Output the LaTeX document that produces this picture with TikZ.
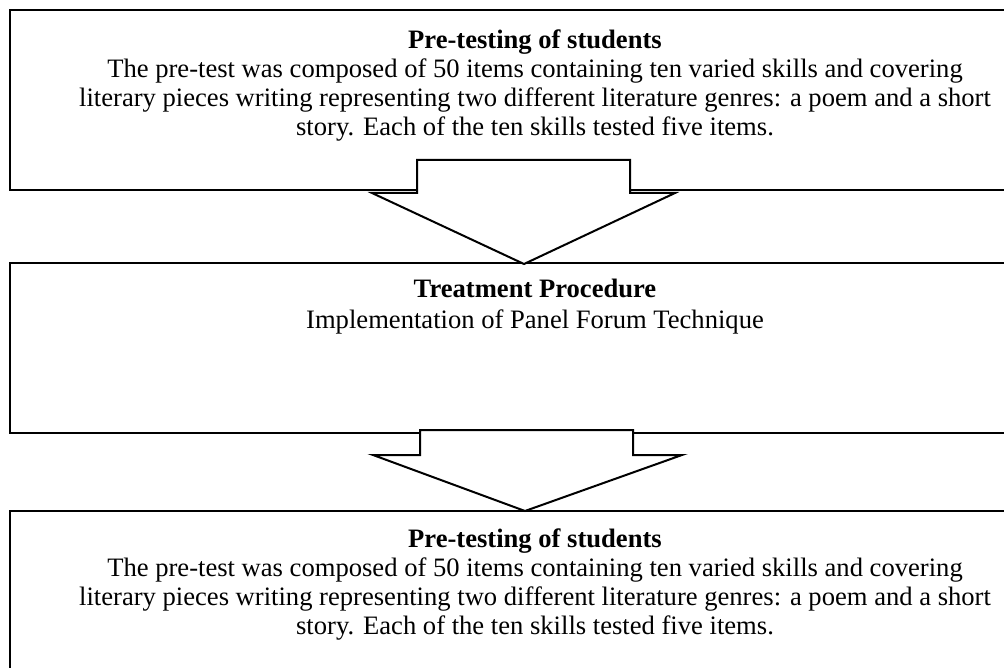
\documentclass[tikz,border=0pt]{standalone}
\usepackage{fontspec}
\setmainfont{Liberation Serif}
\usetikzlibrary{calc}
\tikzset{
  box/.style={draw=black, fill=white, line width=2pt, rectangle, inner sep=0pt},
  blockarrow/.style={draw=black, fill=white, line width=2pt, line join=miter},
  txt/.style={align=center, inner sep=0pt, anchor=north, font=\fontsize{26.6}{29}\selectfont}
}
\begin{document}
\begin{tikzpicture}[x=1pt,y=-1pt]
\useasboundingbox (0,0) rectangle (1004,668);
\clip (0,0) rectangle (1004,668);
\fill[white] (0,0) rectangle (1004,668);
% boxes
\node[box, minimum width=1050pt, minimum height=180pt] (b1) at (535,100) {};
\node[box, minimum width=1050pt, minimum height=170pt] (b2) at (535,348) {};
\node[box, minimum width=1050pt, minimum height=200pt] (b3) at (535,611) {};
% texts
\node[txt] (t1) at (535,30) {\textbf{Pre-testing of students}\\
The pre-test was composed of 50 items containing ten varied skills and covering\\
literary pieces writing representing two different literature genres: a poem and a short\\
story. Each of the ten skills tested five items.};
\node[txt, font=\fontsize{26.6}{30.5}\selectfont] (t2) at (535,279) {\textbf{Treatment Procedure}\\
Implementation of Panel Forum Technique};
\node[txt] (t3) at (535,529) {\textbf{Pre-testing of students}\\
The pre-test was composed of 50 items containing ten varied skills and covering\\
literary pieces writing representing two different literature genres: a poem and a short\\
story. Each of the ten skills tested five items.};
% block arrows
\coordinate (a1tip) at (524,264);
\coordinate (a2tip) at (525,511);
\draw[blockarrow] (417,160) -- (630,160) -- (630,193) -- (675,193) -- (a1tip) -- (372,193) -- (417,193) -- cycle;
\draw[blockarrow] (420,430) -- (633,430) -- (633,455) -- (682,455) -- (a2tip) -- (373,455) -- (420,455) -- cycle;
\end{tikzpicture}
\end{document}
